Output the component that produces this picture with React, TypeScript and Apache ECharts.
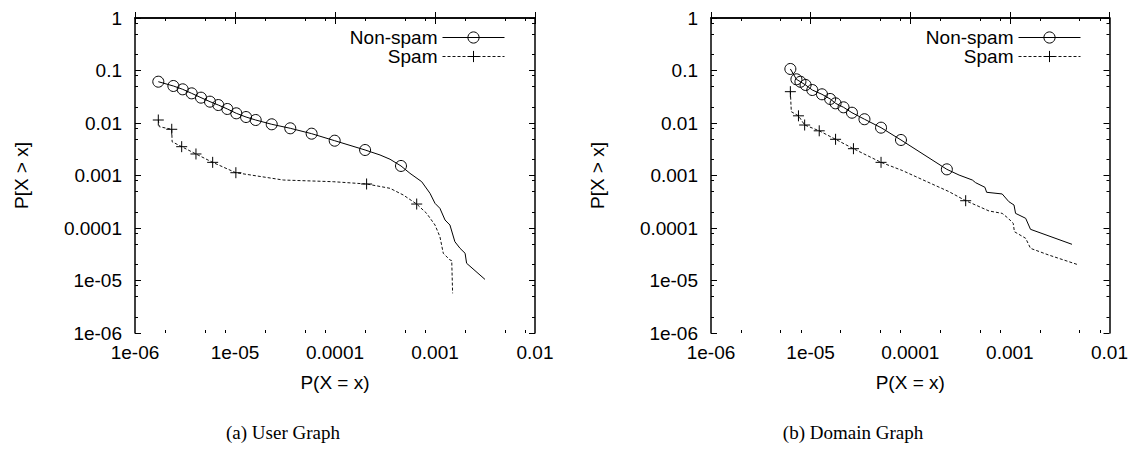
import React, { useEffect, useRef } from 'react';
import * as echarts from 'echarts';

// ---- tick labels ----
const xTickValues = [1e-6, 1e-5, 1e-4, 1e-3, 1e-2];
const xTickLabels = ['1e-06', '1e-05', '0.0001', '0.001', '0.01'];
const yTickValues = [1e-6, 1e-5, 1e-4, 1e-3, 1e-2, 1e-1, 1];
const yTickLabels = ['1e-06', '1e-05', '0.0001', '0.001', '0.01', '0.1', '1'];
const minorMultipliers = [2, 5, 8];

const seriesNames = ['Non-spam', 'Spam'];
const captions = ['(a) User Graph', '(b) Domain Graph'];

// ---- (a) User Graph ----
// points that carry a marker
const userNonSpamMarked = [
  [1.71e-6, 0.0612], [2.42e-6, 0.0507], [3.0e-6, 0.0438], [3.69e-6, 0.0367],
  [4.57e-6, 0.0304], [5.62e-6, 0.0255], [6.81e-6, 0.022], [8.38e-6, 0.0185],
  [1.03e-5, 0.0153], [1.29e-5, 0.013], [1.61e-5, 0.0114], [2.33e-5, 0.00945],
  [3.57e-5, 0.00793], [5.84e-5, 0.00626], [9.93e-5, 0.0046], [2.0e-4, 0.00306],
  [4.57e-4, 0.00152],
];
// curve points without marker
const userNonSpamCurve = [
  [2.82e-4, 0.00246], [3.55e-4, 0.00204], [5.62e-4, 0.0011], [7.36e-4, 7.62e-4],
  [8.91e-4, 4.58e-4], [1.0e-3, 2.95e-4], [1.12e-3, 2.37e-4], [1.26e-3, 1.42e-4],
  [1.41e-3, 1.14e-4], [1.58e-3, 5.49e-5], [1.78e-3, 4.1e-5], [2.0e-3, 3.3e-5],
  [2.07e-3, 2.13e-5], [3.16e-3, 1.05e-5],
];
const userSpamMarked = [
  [1.71e-6, 0.0114], [2.33e-6, 0.00759], [2.93e-6, 0.00354], [4.07e-6, 0.00257],
  [5.98e-6, 0.00178], [1.02e-5, 0.00113], [2.07e-4, 6.89e-4], [6.56e-4, 2.86e-4],
];
const userSpamCurve = [
  [1.75e-6, 0.0085], [2.35e-6, 0.0044], [3.04e-5, 8.2e-4], [9.6e-5, 7.62e-4],
  [3.55e-4, 5.7e-4], [4.82e-4, 4.25e-4], [8.25e-4, 1.9e-4], [1.0e-3, 1.14e-4],
  [1.12e-3, 6.83e-5], [1.21e-3, 3.3e-5], [1.41e-3, 2.46e-5], [1.47e-3, 2.4e-5],
  [1.5e-3, 5.7e-6],
];

// ---- (b) Domain Graph ----
const domainNonSpamMarked = [
  [6.26e-6, 0.107], [7.2e-6, 0.068], [7.9e-6, 0.061], [8.9e-6, 0.053],
  [1.04e-5, 0.0425], [1.3e-5, 0.0352], [1.57e-5, 0.0287], [1.78e-5, 0.0237],
  [2.14e-5, 0.0199], [2.6e-5, 0.0157], [3.47e-5, 0.0118], [5.09e-5, 0.00815],
  [8.07e-5, 0.00475], [2.33e-4, 0.00131],
];
const domainNonSpamCurve = [
  [3.09e-4, 1.02e-3], [4.2e-4, 8.2e-4], [4.53e-4, 7.3e-4], [5.62e-4, 5.96e-4],
  [5.84e-4, 4.79e-4], [8.37e-4, 4.45e-4], [9.77e-4, 3.17e-4], [1.1e-3, 2.74e-4],
  [1.14e-3, 1.9e-4], [1.44e-3, 1.53e-4], [1.61e-3, 9.44e-5], [4.2e-3, 4.89e-5],
];
const domainSpamMarked = [
  [6.26e-6, 0.0395], [7.55e-6, 0.0137], [8.71e-6, 0.00916], [1.22e-5, 0.0071],
  [1.78e-5, 0.00489], [2.69e-5, 0.00324], [5.09e-5, 0.00178], [3.6e-4, 3.31e-4],
];
const domainSpamCurve = [
  [6.4e-6, 0.0164], [8.37e-5, 1.24e-3], [1.14e-4, 9.49e-4], [2.45e-4, 4.92e-4],
  [4.53e-4, 2.74e-4], [6.17e-4, 2.11e-4], [8.37e-4, 1.9e-4], [9.62e-4, 1.53e-4],
  [1.08e-3, 1.23e-4], [1.11e-3, 8.5e-5], [1.44e-3, 6.37e-5], [1.61e-3, 4.1e-5],
  [2.45e-3, 3.06e-5], [4.71e-3, 2.03e-5],
];

const SANS = '"Liberation Sans", Arial, Helvetica, sans-serif';
const SERIF = '"Liberation Serif", "Times New Roman", serif';

function buildLine(marked: number[][], curve: number[][]) {
  const all = [
    ...marked.map((p) => ({ p, m: true })),
    ...curve.map((p) => ({ p, m: false })),
  ];
  all.sort((a, b) => a.p[0] - b.p[0] || b.p[1] - a.p[1]);
  return all.map((d) => (d.m ? { value: d.p } : { value: d.p, symbol: 'none' }));
}

function labelFor(values: number[], labels: string[]) {
  return (v: number) => {
    const i = values.findIndex((t) => Math.abs(Math.log10(t) - Math.log10(v)) < 1e-6);
    return i >= 0 ? labels[i] : '';
  };
}

function minorLogPositions(values: number[]) {
  const out: number[] = [];
  for (let i = 0; i < values.length - 1; i++) {
    const d = Math.log10(values[i]);
    for (const m of minorMultipliers) out.push(d + Math.log10(m));
  }
  return out;
}

export default function App() {
  const ref = useRef<HTMLDivElement>(null);
  useEffect(() => {
    if (!ref.current) return;
    const chart = echarts.init(ref.current, undefined, { renderer: 'svg' });

    const grids = [
      { left: 135, top: 18, width: 400, height: 315 },
      { left: 711, top: 18, width: 400, height: 315 },
    ];
    const xMinor = minorLogPositions(xTickValues);
    const yMinor = minorLogPositions(yTickValues);
    const xLogMin = Math.log10(xTickValues[0]);
    const xLogMax = Math.log10(xTickValues[xTickValues.length - 1]);
    const yLogMin = Math.log10(yTickValues[0]);
    const yLogMax = Math.log10(yTickValues[yTickValues.length - 1]);

    const axisLine = { show: true, lineStyle: { color: '#000', width: 1.5 } };
    const tickStyle = { color: '#000', width: 1 };

    const xAxes: any[] = [];
    const yAxes: any[] = [];
    grids.forEach((_, gi) => {
      xAxes.push(
        {
          gridIndex: gi, type: 'log', logBase: 10, position: 'bottom',
          min: xTickValues[0], max: xTickValues[xTickValues.length - 1],
          axisLine, axisTick: { inside: true, length: 6, lineStyle: tickStyle },
          axisLabel: {
            formatter: labelFor(xTickValues, xTickLabels), color: '#000',
            fontSize: 19, fontFamily: SANS, margin: 10,
          },
          splitLine: { show: false },
          name: 'P(X = x)', nameLocation: 'middle', nameGap: 40,
          nameTextStyle: { color: '#000', fontSize: 19, fontFamily: SANS },
        },
        {
          gridIndex: gi, type: 'log', logBase: 10, position: 'top',
          min: xTickValues[0], max: xTickValues[xTickValues.length - 1],
          axisLine, axisTick: { inside: true, length: 6, lineStyle: tickStyle },
          axisLabel: { show: false }, splitLine: { show: false },
        },
        {
          gridIndex: gi, type: 'value', position: 'bottom', min: xLogMin, max: xLogMax,
          axisLine: { show: false },
          axisTick: { inside: true, length: 3, lineStyle: tickStyle, customValues: xMinor },
          axisLabel: { show: false }, splitLine: { show: false },
        },
        {
          gridIndex: gi, type: 'value', position: 'top', min: xLogMin, max: xLogMax,
          axisLine: { show: false },
          axisTick: { inside: true, length: 3, lineStyle: tickStyle, customValues: xMinor },
          axisLabel: { show: false }, splitLine: { show: false },
        }
      );
      yAxes.push(
        {
          gridIndex: gi, type: 'log', logBase: 10, position: 'left',
          min: yTickValues[0], max: yTickValues[yTickValues.length - 1],
          axisLine, axisTick: { inside: true, length: 6, lineStyle: tickStyle },
          axisLabel: {
            formatter: labelFor(yTickValues, yTickLabels), color: '#000',
            fontSize: 19, fontFamily: SANS, margin: 13,
          },
          splitLine: { show: false },
          name: 'P[X > x]', nameLocation: 'middle', nameRotate: 90, nameGap: 104,
          nameTextStyle: { color: '#000', fontSize: 19, fontFamily: SANS },
        },
        {
          gridIndex: gi, type: 'log', logBase: 10, position: 'right',
          min: yTickValues[0], max: yTickValues[yTickValues.length - 1],
          axisLine, axisTick: { inside: true, length: 6, lineStyle: tickStyle },
          axisLabel: { show: false }, splitLine: { show: false },
        },
        {
          gridIndex: gi, type: 'value', position: 'left', min: yLogMin, max: yLogMax,
          axisLine: { show: false },
          axisTick: { inside: true, length: 3, lineStyle: tickStyle, customValues: yMinor },
          axisLabel: { show: false }, splitLine: { show: false },
        },
        {
          gridIndex: gi, type: 'value', position: 'right', min: yLogMin, max: yLogMax,
          axisLine: { show: false },
          axisTick: { inside: true, length: 3, lineStyle: tickStyle, customValues: yMinor },
          axisLabel: { show: false }, splitLine: { show: false },
        }
      );
    });

    const datasets = [
      [buildLine(userNonSpamMarked, userNonSpamCurve), buildLine(userSpamMarked, userSpamCurve)],
      [buildLine(domainNonSpamMarked, domainNonSpamCurve), buildLine(domainSpamMarked, domainSpamCurve)],
    ];

    const series: any[] = [];
    datasets.forEach((pair, gi) => {
      series.push({
        name: seriesNames[0], type: 'line', xAxisIndex: gi * 4, yAxisIndex: gi * 4,
        data: pair[0], symbol: 'circle', symbolSize: 11, showAllSymbol: true,
        itemStyle: { color: 'rgba(0,0,0,0)', borderColor: '#000', borderWidth: 1 },
        lineStyle: { color: '#000', width: 1 }, z: 3,
      });
      series.push({
        name: seriesNames[1], type: 'line', xAxisIndex: gi * 4, yAxisIndex: gi * 4,
        data: pair[1], symbol: 'path://M0,5L10,5M5,0L5,10', symbolSize: 11,
        showAllSymbol: true,
        itemStyle: { color: 'rgba(0,0,0,0)', borderColor: '#000', borderWidth: 1 },
        lineStyle: { color: '#111', width: 1, type: [3, 2] }, z: 2,
      });
    });

    const legendCommon = {
      data: seriesNames, orient: 'vertical', align: 'right', top: 23,
      itemWidth: 62, itemHeight: 14, itemGap: 0, selectedMode: false,
      lineStyle: { width: 1 },
      itemStyle: { borderWidth: 1 },
      textStyle: { color: '#000', fontSize: 19, fontFamily: SANS },
    };

    chart.setOption({
      animation: false,
      backgroundColor: '#fff',
      grid: grids,
      xAxis: xAxes,
      yAxis: yAxes,
      series,
      legend: [
        { ...legendCommon, right: 1131 - 510 },
        { ...legendCommon, right: 1131 - 1086 },
      ],
      graphic: [
        {
          type: 'text', x: 283, y: 432,
          style: { text: captions[0], font: `19px ${SERIF}`, fill: '#000', textAlign: 'center', textVerticalAlign: 'middle' },
        },
        {
          type: 'text', x: 853, y: 432,
          style: { text: captions[1], font: `19px ${SERIF}`, fill: '#000', textAlign: 'center', textVerticalAlign: 'middle' },
        },
      ],
    });
    return () => chart.dispose();
  }, []);
  return (
    <div
      ref={ref}
      style={{ position: 'absolute', left: 0, top: 0, width: 1131, height: 455, background: '#fff' }}
    />
  );
}
